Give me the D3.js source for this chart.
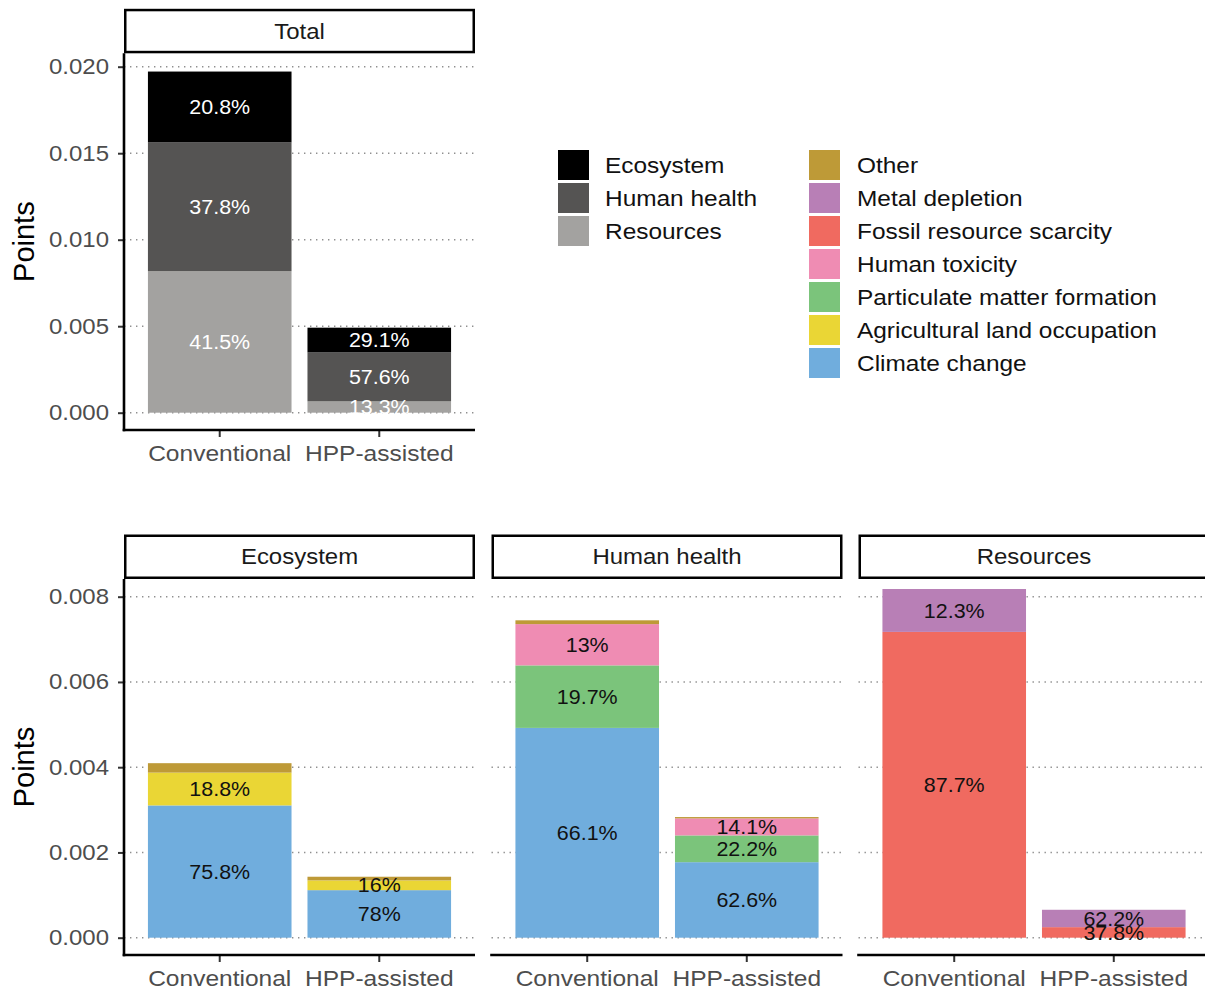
<!DOCTYPE html>
<html>
<head>
<meta charset="utf-8">
<script src="https://cdn.jsdelivr.net/npm/d3@7"></script>
<style>
  html, body { margin: 0; padding: 0; background: #fff; }
  svg { display: block; font-family: "Liberation Sans", Arial, Helvetica, sans-serif; }
</style>
</head>
<body>
<svg id="chart" width="1205" height="993"></svg>
<script>
// ---- data -------------------------------------------------------------
const scenarios = ["Conventional", "HPP-assisted"];

// damage-area scores (Points) per scenario
const areas = ["Ecosystem", "Human health", "Resources"];
const ecosystemPoints   = [0.004094, 0.00143];
const humanHealthPoints = [0.007446, 0.00283];
const resourcesPoints   = [0.00818, 0.000655];

// impact categories, listed from bottom of the stack to top
const impactCategories = [
  "Climate change",
  "Agricultural land occupation",
  "Particulate matter formation",
  "Human toxicity",
  "Fossil resource scarcity",
  "Metal depletion",
  "Other"
];

// contribution (%) of each impact category to its damage area, per scenario
const ecosystemClimateChange      = [75.8, 78.0];
const ecosystemAgriculturalLand   = [18.8, 16.0];
const ecosystemOther              = [5.4, 6.0];
const humanHealthClimateChange    = [66.1, 62.6];
const humanHealthParticulate      = [19.7, 22.2];
const humanHealthToxicity         = [13.0, 14.1];
const humanHealthOther            = [1.2, 1.1];
const resourcesFossil             = [87.7, 37.8];
const resourcesMetal              = [12.3, 62.2];

const yTicksTotal = [0, 0.005, 0.010, 0.015, 0.020];
const yTicksArea  = [0, 0.002, 0.004, 0.006, 0.008];

// ---- colours ----------------------------------------------------------
const areaColor = d3.scaleOrdinal()
  .domain(areas)
  .range(["#000000", "#555453", "#a3a2a0"]);
const impactColor = d3.scaleOrdinal()
  .domain(impactCategories)
  .range(["#70addd", "#ead635", "#7bc47b", "#ef8cb3", "#f06a60", "#b87fb6", "#be9a37"]);

// ---- helpers ----------------------------------------------------------
const svg = d3.select("#chart");
const SX = 1.1; // horizontal widening applied to horizontal text
const fmtPct = p => `${+p.toFixed(1)}%`;

function hText(parent, x, y, str, size, fill, anchor = "middle") {
  return parent.append("text")
    .attr("transform", `translate(${x},${y}) scale(${SX},1)`)
    .attr("text-anchor", anchor)
    .attr("dominant-baseline", "central")
    .style("font-size", size + "px")
    .attr("fill", fill)
    .text(str);
}

function widenAxisText(sel, size, fill) {
  sel.selectAll(".tick text").each(function () {
    const t = d3.select(this);
    const x0 = +t.attr("x") || 0;
    const y0 = +t.attr("y") || 0;
    t.attr("x", 0).attr("y", 0)
      .attr("transform", `translate(${x0},${y0}) scale(${SX},1)`)
      .attr("fill", fill)
      .style("font-size", size + "px");
  });
}

function drawPanel(p) {
  const g = svg.append("g");
  const x = d3.scaleBand().domain(scenarios)
    .range([p.x0, p.x1]).paddingInner(0.1).paddingOuter(0.15);
  const y = d3.scaleLinear().domain(p.yDomain).range([p.yBottom, p.yTop]);

  // dotted horizontal grid
  g.append("g").selectAll("line").data(p.ticks).join("line")
    .attr("x1", p.x0).attr("x2", p.x1)
    .attr("y1", d => y(d)).attr("y2", d => y(d))
    .attr("stroke", "#8f8f8f").attr("stroke-width", 1.4)
    .attr("stroke-dasharray", "1.4,4.6");

  // stacked bars
  const series = d3.stack().keys(p.keys)(p.rows);
  g.append("g").selectAll("g").data(series).join("g")
    .attr("fill", s => p.color(s.key))
    .selectAll("rect").data(s => s).join("rect")
    .attr("x", d => x(d.data.scenario))
    .attr("width", x.bandwidth())
    .attr("y", d => y(d[1]))
    .attr("height", d => Math.max(0, y(d[0]) - y(d[1])));

  // percentage labels centred in each segment
  const lg = g.append("g");
  series.forEach(s => {
    if (s.key === "Other") return;
    s.forEach((d, i) => {
      if (!(d[1] - d[0] > 0)) return;
      hText(lg, x(d.data.scenario) + x.bandwidth() / 2, y((d[0] + d[1]) / 2),
        fmtPct(p.pct(s.key, i)), 19.5, p.labelFill);
    });
  });

  // facet strip
  const sh = 44.5, sw = 2.5;
  g.append("rect")
    .attr("x", p.x0 + sw / 2).attr("y", p.yTop - sh + sw / 2)
    .attr("width", p.x1 - p.x0 - sw).attr("height", sh - sw)
    .attr("fill", "#fff").attr("stroke", "#000").attr("stroke-width", sw);
  hText(g, (p.x0 + p.x1) / 2, p.yTop - sh / 2, p.title, 21.8, "#1a1a1a");

  // x axis
  const xa = g.append("g")
    .attr("transform", `translate(0,${p.yBottom})`)
    .call(d3.axisBottom(x).tickSize(7).tickPadding(8))
    .attr("font-size", null).attr("font-family", null);
  xa.select(".domain").remove();
  xa.selectAll(".tick line").attr("stroke", "#333").attr("stroke-width", 2);
  widenAxisText(xa, 22.3, "#4d4d4d");
  g.append("line")
    .attr("x1", p.x0 - 1.3).attr("x2", p.x1)
    .attr("y1", p.yBottom).attr("y2", p.yBottom)
    .attr("stroke", "#000").attr("stroke-width", 2.6);

  // y axis (left-most panel of each row)
  if (p.showY) {
    const ya = g.append("g")
      .attr("transform", `translate(${p.x0},0)`)
      .call(d3.axisLeft(y).tickValues(p.ticks).tickFormat(d3.format(".3f"))
        .tickSize(6).tickPadding(9))
      .attr("font-size", null).attr("font-family", null);
    ya.select(".domain").remove();
    ya.selectAll(".tick line").attr("stroke", "#333").attr("stroke-width", 2);
    widenAxisText(ya, 21.8, "#4d4d4d");
    g.append("line")
      .attr("x1", p.x0).attr("x2", p.x0)
      .attr("y1", p.yTop).attr("y2", p.yBottom + 1.3)
      .attr("stroke", "#000").attr("stroke-width", 2.6);

    svg.append("text")
      .attr("transform", `translate(24,${(p.yTop + p.yBottom) / 2}) rotate(-90)`)
      .attr("text-anchor", "middle").attr("dominant-baseline", "central")
      .style("font-size", "29px").attr("fill", "#000")
      .text("Points");
  }
}

// ---- total panel ------------------------------------------------------
const areaPoints = {
  "Ecosystem": ecosystemPoints,
  "Human health": humanHealthPoints,
  "Resources": resourcesPoints
};
const totalKeys = ["Resources", "Human health", "Ecosystem"];
const totalRows = scenarios.map((sc, i) => {
  const row = { scenario: sc };
  totalKeys.forEach(k => row[k] = areaPoints[k][i]);
  return row;
});
const totalSum = scenarios.map((sc, i) => d3.sum(totalKeys, k => areaPoints[k][i]));

drawPanel({
  title: "Total",
  x0: 124, x1: 475, yTop: 53.3, yBottom: 430,
  yDomain: [-0.001, 0.020775], ticks: yTicksTotal,
  keys: totalKeys, rows: totalRows, color: areaColor,
  pct: (k, i) => areaPoints[k][i] / totalSum[i] * 100,
  labelFill: "#ffffff", showY: true
});

// ---- damage-area panels -----------------------------------------------
const areaShares = {
  "Ecosystem": {
    "Climate change": ecosystemClimateChange,
    "Agricultural land occupation": ecosystemAgriculturalLand,
    "Other": ecosystemOther
  },
  "Human health": {
    "Climate change": humanHealthClimateChange,
    "Particulate matter formation": humanHealthParticulate,
    "Human toxicity": humanHealthToxicity,
    "Other": humanHealthOther
  },
  "Resources": {
    "Fossil resource scarcity": resourcesFossil,
    "Metal depletion": resourcesMetal
  }
};
const areaPanelX = { "Ecosystem": 124, "Human health": 491.5, "Resources": 858.5 };

areas.forEach(area => {
  const shares = areaShares[area];
  const keys = impactCategories.filter(c => shares[c]);
  const rows = scenarios.map((sc, i) => {
    const row = { scenario: sc };
    keys.forEach(k => row[k] = areaPoints[area][i] * shares[k][i] / 100);
    return row;
  });
  drawPanel({
    title: area,
    x0: areaPanelX[area], x1: areaPanelX[area] + 351, yTop: 579, yBottom: 955,
    yDomain: [-0.000406, 0.008415], ticks: yTicksArea,
    keys, rows, color: impactColor,
    pct: (k, i) => shares[k][i],
    labelFill: "#111111", showY: area === "Ecosystem"
  });
});

// ---- legends ----------------------------------------------------------
function legend(items, color, kx, tx, top) {
  const g = svg.append("g");
  items.forEach((name, i) => {
    const ky = top + i * 33;
    g.append("rect").attr("x", kx).attr("y", ky).attr("width", 31).attr("height", 30)
      .attr("fill", color(name));
    hText(g, tx, ky + 15.5, name, 22.2, "#111111", "start");
  });
}
legend(areas, areaColor, 558, 605, 150);
legend(impactCategories.slice().reverse(), impactColor, 809, 857, 150);
</script>
</body>
</html>
